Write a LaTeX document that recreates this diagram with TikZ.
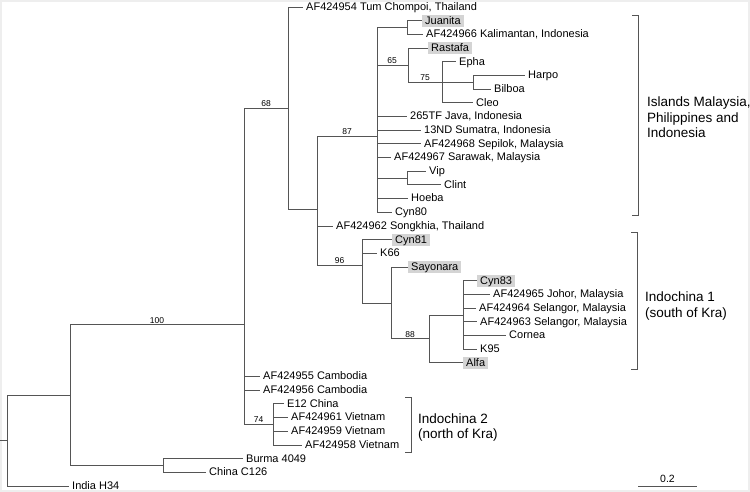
\documentclass[tikz,border=0pt]{standalone}
\usepackage{fontspec}
\setmainfont{Liberation Sans}
\definecolor{branch}{HTML}{555555}
\definecolor{hl}{HTML}{D4D4D4}
\definecolor{frame}{HTML}{EEEEEE}
\begin{document}
\begin{tikzpicture}[x=1pt,y=-1pt,
  br/.style={draw=branch,line width=0.9pt},
  leaf/.style={anchor=west,inner xsep=3pt,inner ysep=0.5pt,text height=9pt,text depth=2.25pt,font=\fontsize{11}{13}\selectfont},
  hleaf/.style={leaf,fill=hl},
  boot/.style={anchor=south,inner sep=1.5pt,font=\fontsize{8.5}{10}\selectfont},
  grp/.style={anchor=west,align=left,inner sep=0pt,font=\fontsize{13.5}{15.5}\selectfont},
  brk/.style={draw=branch,line width=0.9pt}]
\useasboundingbox (0,0) rectangle (750,492);
\fill[white] (0,0) rectangle (750,492);
\draw[frame,line width=4pt] (0,0) rectangle (750,492);

% leaves
\node[leaf]  (l0)  at (303,7.0)   {AF424954 Tum Chompoi, Thailand};
\node[hleaf] (l1)  at (422,20.7)  {Juanita};
\node[leaf]  (l2)  at (423,34.4)  {AF424966 Kalimantan, Indonesia};
\node[hleaf] (l3)  at (428,48.1)  {Rastafa};
\node[leaf]  (l4)  at (456,61.7)  {Epha};
\node[leaf]  (l5)  at (525,75.4)  {Harpo};
\node[leaf]  (l6)  at (491,89.1)  {Bilboa};
\node[leaf]  (l7)  at (473,102.8) {Cleo};
\node[leaf]  (l8)  at (407,116.5) {265TF Java, Indonesia};
\node[leaf]  (l9)  at (421,130.2) {13ND Sumatra, Indonesia};
\node[leaf]  (l10) at (421,143.9) {AF424968 Sepilok, Malaysia};
\node[leaf]  (l11) at (391,157.5) {AF424967 Sarawak, Malaysia};
\node[leaf]  (l12) at (426,171.2) {Vip};
\node[leaf]  (l13) at (441,184.9) {Clint};
\node[leaf]  (l14) at (408,198.6) {Hoeba};
\node[leaf]  (l15) at (392,212.3) {Cyn80};
\node[leaf]  (l16) at (333,226.0) {AF424962 Songkhia, Thailand};
\node[hleaf] (l17) at (392,239.7) {Cyn81};
\node[leaf]  (l18) at (377,253.3) {K66};
\node[hleaf] (l19) at (408,267.0) {Sayonara};
\node[hleaf] (l20) at (477,280.7) {Cyn83};
\node[leaf]  (l21) at (490,294.4) {AF424965 Johor, Malaysia};
\node[leaf]  (l22) at (476,308.1) {AF424964 Selangor, Malaysia};
\node[leaf]  (l23) at (477,321.8) {AF424963 Selangor, Malaysia};
\node[leaf]  (l24) at (506,335.5) {Cornea};
\node[leaf]  (l25) at (477,349.2) {K95};
\node[hleaf] (l26) at (463,362.8) {Alfa};
\node[leaf]  (l27) at (260,376.5) {AF424955 Cambodia};
\node[leaf]  (l28) at (260,390.2) {AF424956 Cambodia};
\node[leaf]  (l29) at (284,403.9) {E12 China};
\node[leaf]  (l30) at (288,417.6) {AF424961 Vietnam};
\node[leaf]  (l31) at (288,431.3) {AF424959 Vietnam};
\node[leaf]  (l32) at (302,445.0) {AF424958 Vietnam};
\node[leaf]  (l33) at (243,458.7) {Burma 4049};
\node[leaf]  (l34) at (206,472.4) {China C126};
\node[leaf]  (l35) at (69,486.0)  {India H34};

% internal nodes
\coordinate (rs)   at (0,440.6);
\coordinate (root) at (7,440.6);
\coordinate (nA)   at (70,395.2);
\coordinate (nBC)  at (163,465.55);
\coordinate (nB)   at (244,324.8);
\coordinate (n74)  at (273,424.45);
\coordinate (nC)   at (288,108.15);
\coordinate (nD)   at (317,209.3);
\coordinate (n87)  at (377,136.64);
\coordinate (nJK)  at (407,27.55);
\coordinate (n65)  at (408,65.2);
\coordinate (n75)  at (442,82.25);
\coordinate (nHB)  at (473,82.25);
\coordinate (nVC)  at (407,178.05);
\coordinate (n96)  at (362,265.3);
\coordinate (nS)   at (391,302.95);
\coordinate (n88)  at (429,338.9);
\coordinate (nE)   at (463,314.95);

% branches
\draw[br] (rs) -- (root);
\draw[br] (root) |- (nA);
\draw[br] (root) |- (l35.west);
\draw[br] (nA) |- (nB);
\draw[br] (nA) |- (nBC);
\draw[br] (nBC) |- (l33.west);
\draw[br] (nBC) |- (l34.west);
\draw[br] (nB) |- (nC);
\draw[br] (nB) |- (l27.west);
\draw[br] (nB) |- (l28.west);
\draw[br] (nB) |- (n74);
\foreach \i in {29,30,31,32} \draw[br] (n74) |- (l\i.west);
\draw[br] (nC) |- (l0.west);
\draw[br] (nC) |- (nD);
\draw[br] (nD) |- (n87);
\draw[br] (nD) |- (l16.west);
\draw[br] (nD) |- (n96);
\draw[br] (n87) |- (nJK);
\draw[br] (n87) |- (n65);
\foreach \i in {8,9,10,11,14,15} \draw[br] (n87) |- (l\i.west);
\draw[br] (n87) |- (nVC);
\draw[br] (nJK) |- (l1.west);
\draw[br] (nJK) |- (l2.west);
\draw[br] (n65) |- (l3.west);
\draw[br] (n65) |- (n75);
\draw[br] (n75) |- (l4.west);
\draw[br] (n75) |- (nHB);
\draw[br] (n75) |- (l7.west);
\draw[br] (nHB) |- (l5.west);
\draw[br] (nHB) |- (l6.west);
\draw[br] (nVC) |- (l12.west);
\draw[br] (nVC) |- (l13.west);
\draw[br] (n96) |- (l17.west);
\draw[br] (n96) |- (l18.west);
\draw[br] (n96) |- (nS);
\draw[br] (nS) |- (l19.west);
\draw[br] (nS) |- (n88);
\draw[br] (n88) |- (nE);
\draw[br] (n88) |- (l26.west);
\foreach \i in {20,21,22,23,24,25} \draw[br] (nE) |- (l\i.west);

% bootstrap values
\node[boot] (b100) at (157,324.8)   {100};
\node[boot] (b68)  at (266,108.15)  {68};
\node[boot] (b87)  at (347,136.64)  {87};
\node[boot] (b65)  at (392,65.2)    {65};
\node[boot] (b75)  at (425,82.25)   {75};
\node[boot] (b96)  at (339.5,265.3) {96};
\node[boot] (b88)  at (410,338.9)   {88};
\node[boot] (b74)  at (258.5,424.45){74};

% brackets
\draw[brk] (632,15) -- (638,15) -- (638,215) -- (632,215);
\draw[brk] (631,232) -- (637,232) -- (637,369) -- (631,369);
\draw[brk] (405,397) -- (411,397) -- (411,452) -- (405,452);
\node[grp] (g1) at (647,117.5) {Islands Malaysia,\\Philippines and\\Indonesia};
\node[grp] (g2) at (645,306) {Indochina 1\\(south of Kra)};
\node[grp] (g3) at (418,427.5) {Indochina 2\\(north of Kra)};

% scale bar
\coordinate (s1) at (638,486);
\coordinate (s2) at (697,486);
\draw[br] (s1) -- (s2);
\node[anchor=south,inner sep=1.5pt,font=\fontsize{10.5}{12}\selectfont] (sl) at (667.5,484) {0.2};
\end{tikzpicture}
\end{document}
